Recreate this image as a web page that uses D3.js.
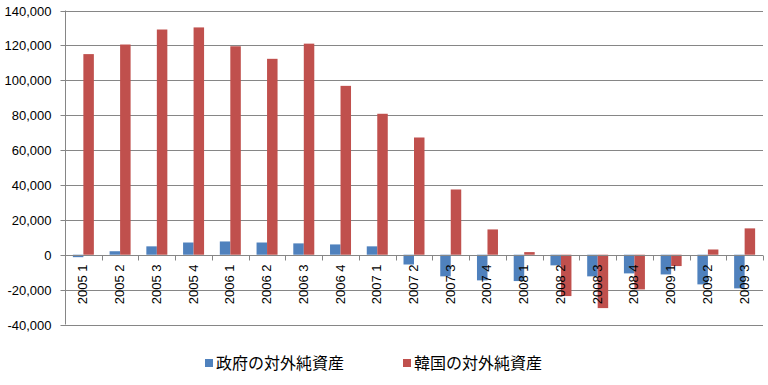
<!DOCTYPE html>
<html lang="ja">
<head>
<meta charset="utf-8">
<title>対外純資産</title>
<script src="https://d3js.org/d3.v7.min.js"></script>
<style>
  body { margin: 0; background: #fff; }
  svg { display: block; }
  .tick-label { font-family: "Liberation Sans", Arial, sans-serif; font-size: 13px; fill: #000; }
  .legend { font-family: "Noto Sans CJK JP", sans-serif; font-size: 16px; fill: #000; }
</style>
</head>
<body>
<svg width="768" height="385"></svg>
<script>
// quarters (year quarter)
const categories = ["2005 1","2005 2","2005 3","2005 4","2006 1","2006 2","2006 3","2006 4",
  "2007 1","2007 2","2007 3","2007 4","2008 1","2008 2","2008 3","2008 4","2009 1","2009 2","2009 3"];
const govValues = [-1400, 2000, 4800, 7000, 7600, 7000, 6500, 5900,
  4800, -5600, -12400, -14700, -15100, -6100, -12400, -10700, -11300, -17000, -19300];
const korValues = [115000, 120500, 129100, 130300, 119500, 112300, 121000, 96800,
  80800, 67200, 37400, 14500, 1500, -23700, -30600, -19900, -6500, 3000, 15100];
const seriesNames = ["政府の対外純資産", "韓国の対外純資産"];
const seriesColors = ["#4F81BD", "#C0504D"];
const yTicks = [-40000, -20000, 0, 20000, 40000, 60000, 80000, 100000, 120000, 140000];

const svg = d3.select("svg");
const plotL = 65, plotR = 763, plotT = 10.5, plotB = 324.5;

const x = d3.scaleBand().domain(categories).range([plotL, plotR]).paddingInner(0).paddingOuter(0);
const y = d3.scaleLinear().domain([-40000, 140000]).range([plotB, plotT]);

// bars: two per category, gap width 150% like excel
const barW = x.bandwidth() / 3.5;
const sub = d3.scaleBand().domain([0, 1]).range([0.75 * barW, 2.75 * barW]);

// gridlines
svg.append("g").selectAll("line").data(yTicks.filter(d => d !== 0)).join("line")
  .attr("x1", plotL).attr("x2", plotR)
  .attr("y1", d => Math.round(y(d)) + 0.5).attr("y2", d => Math.round(y(d)) + 0.5)
  .attr("stroke", "#868686").attr("stroke-width", 1);

const data = categories.map((c, i) => ({ c, vals: [govValues[i], korValues[i]] }));

const groups = svg.append("g").selectAll("g").data(data).join("g")
  .attr("transform", d => `translate(${x(d.c)},0)`);

groups.selectAll("rect").data(d => d.vals.map((v, k) => ({ v, k }))).join("rect")
  .attr("x", d => sub(d.k))
  .attr("width", sub.bandwidth())
  .attr("y", d => Math.min(y(d.v), y(0)))
  .attr("height", d => Math.abs(y(d.v) - y(0)))
  .attr("fill", d => seriesColors[d.k]);

// y axis
const yAxis = d3.axisLeft(y).tickValues(yTicks).tickSize(5).tickPadding(9);
const ya = svg.append("g").attr("transform", `translate(${plotL + 0.5},0)`).call(yAxis);
ya.select(".domain").attr("stroke", "#868686").attr("d", `M0,${plotT}V${plotB}`);
ya.selectAll(".tick line").attr("stroke", "#868686");
ya.selectAll(".tick text").attr("class", "tick-label").attr("fill", "#000")
  .text(d => d < 0 ? "-" + d3.format(",")(-d) : d3.format(",")(d));
ya.selectAll(".tick").attr("transform", d => `translate(0,${Math.round(y(d)) + 0.5})`);

// x axis at zero
const y0 = Math.round(y(0)) + 0.5;
const xa = svg.append("g");
xa.append("line").attr("x1", plotL).attr("x2", plotR).attr("y1", y0).attr("y2", y0)
  .attr("stroke", "#868686");
xa.selectAll("line.tk").data(categories).join("line")
  .attr("class", "tk")
  .attr("x1", d => Math.round(x(d) + x.step()) + 0.5)
  .attr("x2", d => Math.round(x(d) + x.step()) + 0.5)
  .attr("y1", y0).attr("y2", y0 + 5)
  .attr("stroke", "#868686");
xa.selectAll("text").data(categories).join("text")
  .attr("class", "tick-label")
  .attr("text-anchor", "end")
  .attr("transform", d => `translate(${x(d) + x.bandwidth() / 2 + 4},${y0 + 9}) rotate(-90)`)
  .text(d => d);

// legend
const legend = svg.append("g").attr("transform", "translate(205,363)");
const items = legend.selectAll("g").data(seriesNames).join("g")
  .attr("transform", (d, i) => `translate(${i * 198},0)`);
items.append("rect").attr("x", 0).attr("y", -4).attr("width", 8).attr("height", 8)
  .attr("fill", (d, i) => seriesColors[i]);
items.append("text").attr("class", "legend").attr("x", 11).attr("y", 0)
  .attr("dy", "0.35em").text(d => d);
</script>
</body>
</html>
